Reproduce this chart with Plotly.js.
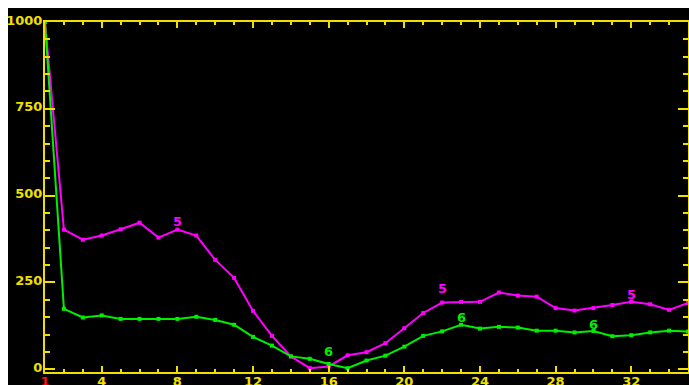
<!DOCTYPE html>
<html>
<head>
<meta charset="utf-8">
<script src="https://cdn.plot.ly/plotly-3.0.1.min.js"></script>
<style>
  html, body { margin: 0; padding: 0; background: #ffffff; overflow: hidden; }
  #chart { position: absolute; left: 8px; top: 8px; width: 681px; height: 377px; background: #000; }
</style>
</head>
<body>
<div id="chart"></div>
<script>
// ---- data ----
const xValues = [1,2,3,4,5,6,7,8,9,10,11,12,13,14,15,16,17,18,19,20,21,22,23,24,25,26,27,28,29,30,31,32,33,34,35];
const series5 = [1000,402,373,385,403,422,379,402,385,315,263,168,96,37,3,8,40,49,75,118,162,192,194,194,221,212,209,176,169,176,185,194,187,171,191];
const series6 = [1000,174,149,155,145,145,145,145,151,142,128,93,68,37,30,15,3,25,39,65,96,109,128,117,122,120,111,111,106,110,95,98,106,111,109];
const xTickVals = [1,4,8,12,16,20,24,28,32,35];
const xTickText = ['1','4','8','12','16','20','24','28','32','35'];
const yTickVals = [0,250,500,750,1000];
const yTickText = ['0','250','500','750','1000'];
const label5X = [8,22,32];
const label6X = [16,23,30];

// ---- styles ----
const YEL = '#f0e000';
const MAG = '#ff00ff';
const GRN = '#00ee00';
const RED = '#ff1010';
const FONT = 'DejaVu Sans, sans-serif';
const shift5 = [8, 14, 7];
const shift6 = [13, 7, 7];

const ticktextStyled = xTickText.map((t, i) =>
  (i === 0 || i === xTickText.length - 1) ? '<span style="color:' + RED + '">' + t + '</span>' : t);

const traces = [
  { x: xValues, y: series5, mode: 'lines+markers', name: '5',
    line: { color: MAG, width: 2 }, marker: { color: MAG, size: 4, symbol: 'square' } },
  { x: xValues, y: series6, mode: 'lines+markers', name: '6',
    line: { color: GRN, width: 2 }, marker: { color: GRN, size: 4, symbol: 'square' } }
];

const annotations = [];
label5X.forEach((xv, i) => {
  annotations.push({ x: xv, y: series5[xValues.indexOf(xv)], xref: 'x', yref: 'y', text: '5',
    showarrow: false, yshift: shift5[i], yanchor: 'middle',
    font: { family: FONT, size: 13, color: MAG, weight: 'bold' } });
});
label6X.forEach((xv, i) => {
  annotations.push({ x: xv, y: series6[xValues.indexOf(xv)], xref: 'x', yref: 'y', text: '6',
    showarrow: false, yshift: shift6[i], yanchor: 'middle',
    font: { family: FONT, size: 13, color: GRN, weight: 'bold' } });
});

const layout = {
  width: 681, height: 377,
  margin: { l: 37, r: 1, t: 14, b: 13, pad: 0 },
  paper_bgcolor: '#000000',
  plot_bgcolor: '#000000',
  showlegend: false,
  font: { family: FONT, color: YEL, size: 13, weight: 'bold' },
  xaxis: {
    range: [1, 35], showgrid: false, zeroline: false,
    showline: true, linecolor: YEL, linewidth: 2, mirror: 'allticks',
    tickmode: 'array', tickvals: xTickVals, ticktext: ticktextStyled,
    ticks: 'inside', ticklen: 6, tickwidth: 2, tickcolor: YEL,
    tickfont: { family: FONT, size: 13, color: YEL, weight: 'bold' },
    ticklabelstandoff: -4,
    minor: { dtick: 1, tick0: 0, ticks: 'inside', ticklen: 3, tickwidth: 2, tickcolor: YEL, showgrid: false }
  },
  yaxis: {
    range: [-8, 1000], showgrid: false, zeroline: false,
    showline: true, linecolor: YEL, linewidth: 2, mirror: 'allticks',
    tickmode: 'array', tickvals: yTickVals, ticktext: yTickText,
    ticks: 'inside', ticklen: 10, tickwidth: 2, tickcolor: YEL,
    tickfont: { family: FONT, size: 13, color: YEL, weight: 'bold' },
    ticklabelstandoff: -2,
    ticklabelshift: -2,
    minor: { dtick: 50, tick0: 0, ticks: 'inside', ticklen: 5, tickwidth: 2, tickcolor: YEL, showgrid: false }
  },
  annotations: annotations
};

Plotly.newPlot('chart', traces, layout, { displayModeBar: false, staticPlot: true });
</script>
</body>
</html>
